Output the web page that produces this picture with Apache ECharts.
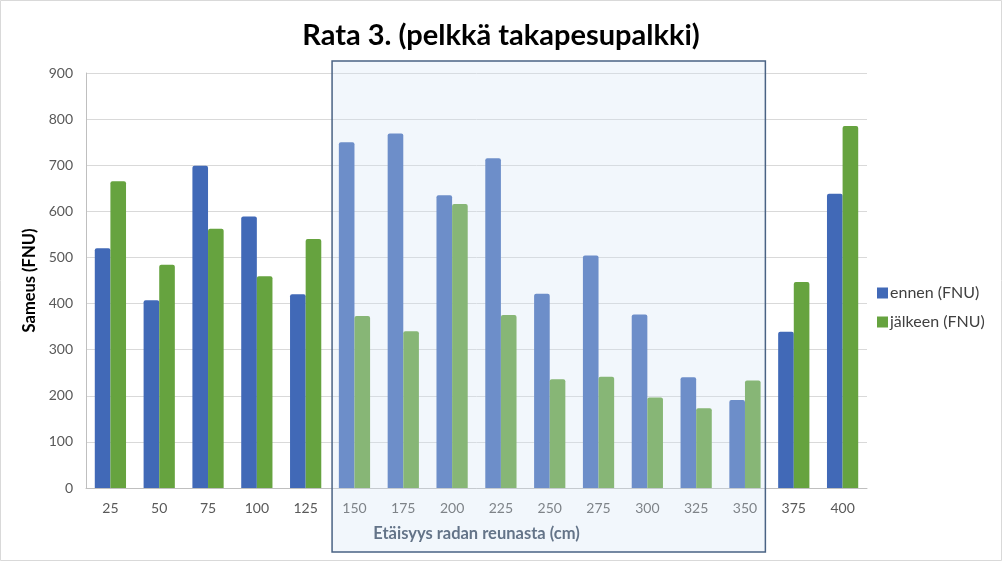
<!DOCTYPE html>
<html>
<head>
<meta charset="utf-8">
<script src="https://cdn.jsdelivr.net/npm/echarts@6/dist/echarts.min.js"></script>
<style>
html,body{margin:0;padding:0;background:#fff;}
#chart{width:1002px;height:561px;}
</style>
</head>
<body>
<div id="chart"></div>
<script>
const titleText = 'Rata 3. (pelkkä takapesupalkki)';
const categories = ['25','50','75','100','125','150','175','200','225','250','275','300','325','350','375','400'];
const ennen = [520, 407, 699, 589, 420, 750, 769, 635, 715, 421, 504, 376, 240, 191, 339, 638];
const jalkeen = [665, 484, 562, 459, 540, 373, 340, 616, 375, 236, 241, 196, 173, 233, 447, 785];
const seriesNames = ['ennen (FNU)', 'jälkeen (FNU)'];
const highlightFrom = '150';
const highlightTo = '350';

const FONT = 'Lato';
const chart = echarts.init(document.getElementById('chart'), null, {renderer: 'canvas'});
const option = {
  backgroundColor: '#ffffff',
  animation: false,
  title: {
    text: titleText,
    left: 'center',
    top: 16,
    textStyle: {fontFamily: FONT, fontWeight: 'bold', fontSize: 29, color: '#000000'}
  },
  legend: {
    orient: 'vertical',
    left: 872,
    top: 280,
    itemWidth: 11,
    itemHeight: 11,
    itemGap: 13,
    icon: 'rect',
    textStyle: {fontFamily: FONT, fontSize: 16, color: '#404040', padding: [0,0,0,-3]},
    data: seriesNames
  },
  grid: {left: 86, right: 135, top: 73, bottom: 73, containLabel: false},
  xAxis: {
    type: 'category',
    data: categories,
    name: 'Etäisyys radan reunasta (cm)',
    nameLocation: 'middle',
    nameGap: 37,
    nameTextStyle: {fontFamily: FONT, fontWeight: 'bold', fontSize: 16.5, color: '#34445a'},
    axisLine: {lineStyle: {color: '#bfbfbf', width: 1}},
    axisTick: {show: false},
    axisLabel: {fontFamily: FONT, fontSize: 14, color: '#595959', margin: 13}
  },
  yAxis: {
    type: 'value',
    min: 0,
    max: 900,
    interval: 100,
    name: 'Sameus (FNU)',
    nameLocation: 'middle',
    nameGap: 41,
    nameTextStyle: {fontFamily: FONT, fontWeight: 'bold', fontSize: 16.5, color: '#000000'},
    axisLine: {show: true, lineStyle: {color: '#bfbfbf', width: 1}},
    axisTick: {show: false},
    splitLine: {lineStyle: {color: '#d9d9d9', width: 1}},
    axisLabel: {fontFamily: FONT, fontSize: 14, color: '#595959', margin: 13}
  },
  series: [
    {
      name: seriesNames[0], type: 'bar', data: ennen,
      barGap: '0%', barCategoryGap: '36%',
      itemStyle: {color: '#4169B7', borderRadius: [2,2,0,0]}
    },
    {
      name: seriesNames[1], type: 'bar', data: jalkeen,
      barGap: '0%', barCategoryGap: '36%',
      itemStyle: {color: '#66A33F', borderRadius: [2,2,0,0]}
    }
  ]
};
chart.setOption(option);

// highlighted region box, derived from the category axis
const pFrom = chart.convertToPixel({xAxisIndex: 0}, highlightFrom);
const pTo = chart.convertToPixel({xAxisIndex: 0}, highlightTo);
const step = (pTo - pFrom) / (categories.indexOf(highlightTo) - categories.indexOf(highlightFrom));
const yTop = chart.convertToPixel({yAxisIndex: 0}, 900);
const x0 = pFrom - step / 2 + 2;
const x1 = pTo + step / 2 - 4;
const y0 = yTop - 12;
const y1 = 552;

chart.setOption({
  graphic: [
    {
      type: 'rect', z: 100, silent: true,
      shape: {x: x0, y: y0, width: x1 - x0, height: y1 - y0},
      style: {fill: 'rgba(212,228,245,0.30)', stroke: '#4a6384', lineWidth: 1.5}
    },
    {
      type: 'rect', z: 101, silent: true,
      shape: {x: 0.5, y: 0.5, width: 1001, height: 560},
      style: {fill: 'none', stroke: '#d9d9d9', lineWidth: 1}
    }
  ]
});
</script>
</body>
</html>
